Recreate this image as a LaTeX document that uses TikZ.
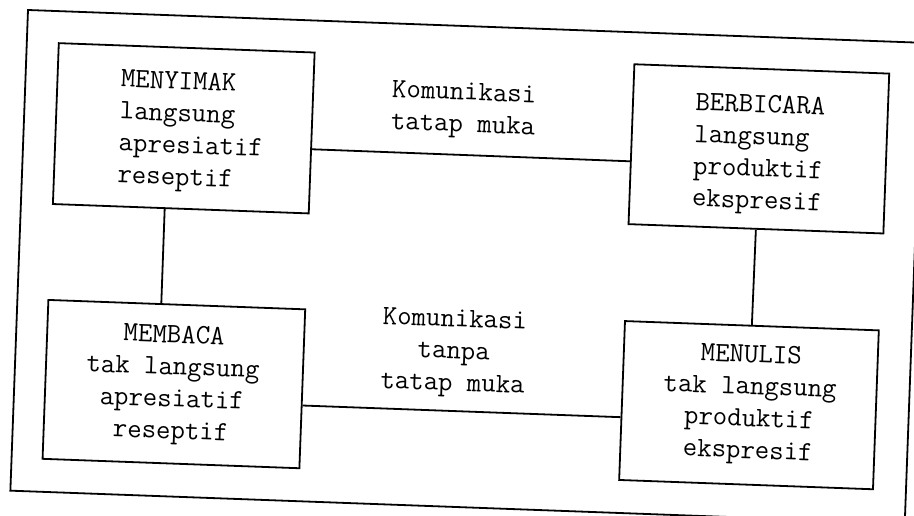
\documentclass[tikz,border=0pt]{standalone}
\usepackage{fontspec}
\usetikzlibrary{calc}
\tikzset{
  boxnode/.style={draw, line width=1.8pt, rectangle, inner sep=0pt},
  boxtext/.style={font=\ttfamily\addfontfeatures{FakeStretch=1.07,FakeBold=0.8}\fontsize{28}{32}\selectfont, inner sep=0pt},
  link/.style={line width=1.8pt},
}
\begin{document}
\begin{tikzpicture}
\useasboundingbox (0,0) rectangle (914pt,-516pt);
\fill[white] (0,0) rectangle (914pt,-516pt);
\begin{scope}[x=1pt, y=-1pt, shift={(28pt,-10pt)}, rotate=-2.1, transform shape]
  \node[boxnode, minimum width=895pt, minimum height=481pt] (frame) at (447.5,240.5) {};
  \node[boxnode, minimum width=256pt, minimum height=161pt] (menyimak) at (160,112.5) {};
  \node[boxnode, minimum width=255pt, minimum height=160pt] (berbicara) at (735.5,112) {};
  \node[boxnode, minimum width=257pt, minimum height=159pt] (membaca) at (159.5,368.5) {};
  \node[boxnode, minimum width=254pt, minimum height=159pt] (menulis) at (735,368.5) {};

  \node[boxtext, align=left] (tmenyimak) at (167.7,115.9) {MENYIMAK\\langsung\\apresiatif\\reseptif};
  \node[boxtext, align=left] (tberbicara) at (735.4,117.9) {BERBICARA\\langsung\\produktif\\ekspresif};
  \node[boxtext, align=center] (tmembaca) at (158,369.6) {MEMBACA\\tak langsung\\apresiatif\\reseptif};
  \node[boxtext, align=center] (tmenulis) at (735.5,368) {MENULIS\\tak langsung\\produktif\\ekspresif};
  \node[boxtext, align=left] (ltop) at (439,84.5) {Komunikasi\\tatap muka};
  \node[boxtext, align=center] (lbottom) at (438,327.5) {Komunikasi\\tanpa\\tatap muka};

  \draw[link] ($(menyimak.north east)!0.6!(menyimak.south east)$) -- ($(berbicara.north west)!0.606!(berbicara.south west)$);
  \draw[link] ($(membaca.north east)!0.604!(membaca.south east)$) -- ($(menulis.north west)!0.604!(menulis.south west)$);
  \draw[link] ($(menyimak.south west)!0.4375!(menyimak.south east)$) -- ($(membaca.north west)!0.44!(membaca.north east)$);
  \draw[link] (berbicara.south) -- (menulis.north);
\end{scope}
\end{tikzpicture}
\end{document}
